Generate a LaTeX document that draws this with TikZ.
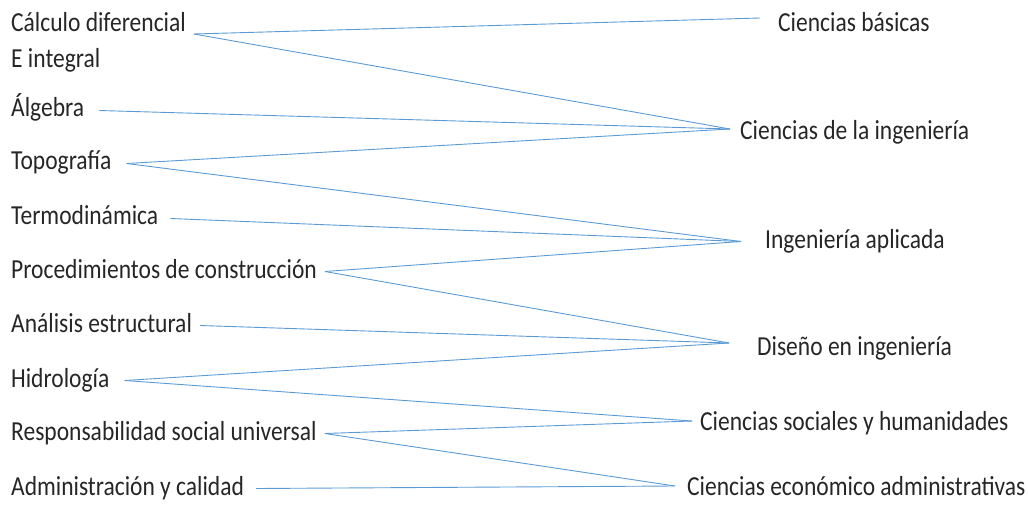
\documentclass[tikz,border=0pt]{standalone}
\usepackage{fontspec}
\setmainfont{Carlito}[FakeStretch=0.855]
\definecolor{linkblue}{RGB}{91,155,213}
\begin{document}
\begin{tikzpicture}[x=1pt, y=-1pt, every node/.style={font=\fontsize{27.5}{30}\selectfont, text=black!85, inner sep=0pt, text height=18pt, text depth=5pt, anchor=base west}, link/.style={draw=linkblue, line width=0.9pt}]
\useasboundingbox (0,0) rectangle (1028,505);
\node (calc) at (11,32) {Cálculo diferencial};
\node (integ) at (11,68) {E integral};
\node (alg) at (11,117) {Álgebra};
\node (topo) at (11,170) {Topografía};
\node (termo) at (11,225) {Termodinámica};
\node (proc) at (11,278) {Procedimientos de construcción};
\node (anal) at (11,332) {Análisis estructural};
\node (hidro) at (11,387) {Hidrología};
\node (resp) at (11,440) {Responsabilidad social universal};
\node (admin) at (11,495) {Administración y calidad};
\node (basicas) at (778,32) {Ciencias básicas};
\node (cing) at (740,140) {Ciencias de la ingeniería};
\node (iapl) at (765,248) {Ingeniería aplicada};
\node (dis) at (757,355) {Diseño en ingeniería};
\node (soc) at (700,430) {Ciencias sociales y humanidades};
\node (econ) at (687,495) {Ciencias económico administrativas};
\draw[link] ([xshift=8pt, yshift=-2pt]calc.base east) -- ([xshift=-18pt, yshift=7.5pt]basicas.west);
\draw[link] ([xshift=8pt, yshift=-2pt]calc.base east) -- ([xshift=-10pt, yshift=4.5pt]cing.west);
\draw[link] ([xshift=15pt]alg.east) -- ([xshift=-10pt, yshift=4.5pt]cing.west);
\draw[link] ([xshift=15pt]topo.east) -- ([xshift=-10pt, yshift=4.5pt]cing.west);
\draw[link] ([xshift=15pt]topo.east) -- ([xshift=-24pt]iapl.west);
\draw[link] ([xshift=12pt]termo.east) -- ([xshift=-24pt]iapl.west);
\draw[link] ([xshift=8pt]proc.east) -- ([xshift=-24pt]iapl.west);
\draw[link] ([xshift=8pt]proc.east) -- ([xshift=-28pt, yshift=5.5pt]dis.west);
\draw[link] ([xshift=8pt]anal.east) -- ([xshift=-28pt, yshift=5.5pt]dis.west);
\draw[link] ([xshift=15pt]hidro.east) -- ([xshift=-28pt, yshift=5.5pt]dis.west);
\draw[link] ([xshift=15pt]hidro.east) -- ([xshift=-8pt, yshift=2.5pt]soc.west);
\draw[link] ([xshift=8pt]resp.east) -- ([xshift=-8pt, yshift=2.5pt]soc.west);
\draw[link] ([xshift=8pt]resp.east) -- ([xshift=-12pt, yshift=2.5pt]econ.west);
\draw[link] ([xshift=12pt]admin.east) -- ([xshift=-12pt, yshift=2.5pt]econ.west);
\end{tikzpicture}
\end{document}
